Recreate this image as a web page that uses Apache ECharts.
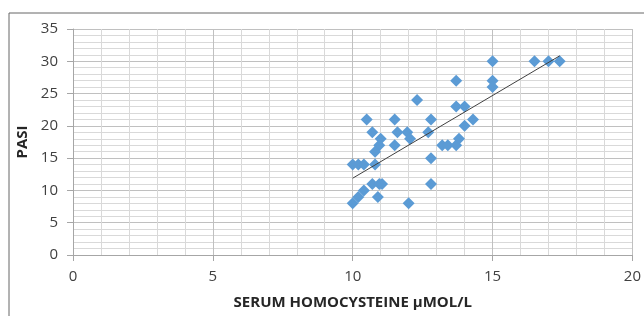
<!DOCTYPE html>
<html><head><meta charset="utf-8">
<script src="https://cdn.jsdelivr.net/npm/echarts@6/dist/echarts.min.js"></script>
<style>html,body{margin:0;padding:0;background:#fff}#c{width:644px;height:316px}</style>
</head><body><div id="c"></div>
<script>
const homocysteine = [10.0,10.2,10.4,10.0,10.2,10.4,10.8,10.5,10.7,11.0,10.95,10.8,10.7,10.95,11.05,10.9,11.5,11.6,11.5,11.95,12.05,12.0,12.3,12.8,12.7,12.8,12.8,13.2,13.4,13.7,13.8,13.7,13.7,14.0,14.0,14.3,15.0,15.0,15.0,16.5,17.0,17.4];
const pasi = [8,9,10,14,14,14,14,21,19,18,17,16,11,11,11,9,21,19,17,19,18,8,24,21,19,15,11,17,17,17,18,23,27,23,20,21,30,27,26,30,30,30];
const xTicks = [0,5,10,15,20];
const yTicks = [0,5,10,15,20,25,30,35];
const xTitle = 'SERUM HOMOCYSTEINE μMOL/L';
const yTitle = 'PASI';

const pts = homocysteine.map((x,i)=>[x,pasi[i]]);
const n = pts.length;
const mx = homocysteine.reduce((a,b)=>a+b,0)/n, my = pasi.reduce((a,b)=>a+b,0)/n;
let sxy=0,sxx=0; pts.forEach(([x,y])=>{sxy+=(x-mx)*(y-my);sxx+=(x-mx)*(x-mx);});
const slope=sxy/sxx, icpt=my-slope*mx;
const x0=Math.min(...homocysteine), x1=Math.max(...homocysteine);
const trend=[[x0,icpt+slope*x0],[x1,icpt+slope*x1]];

const chart = echarts.init(document.getElementById('c'));
const font = "'Open Sans', 'Liberation Sans', sans-serif";
chart.setOption({
  animation:false,
  graphic:[{type:'rect',shape:{x:9,y:13,width:700,height:400},style:{fill:'none',stroke:'#666',lineWidth:1}}],
  grid:{left:73,right:9,top:29,bottom:61},
  xAxis:{type:'value',min:xTicks[0],max:xTicks[xTicks.length-1],interval:5,
    name:xTitle,nameLocation:'middle',nameGap:40,
    nameTextStyle:{fontFamily:font,fontWeight:'bold',fontSize:15,color:'#262626'},
    axisLine:{show:true,lineStyle:{color:'#a6a6a6'}},
    axisTick:{show:true,length:6,lineStyle:{color:'#a6a6a6'}},
    axisLabel:{fontFamily:font,fontSize:15,color:'#404040',margin:14},
    splitLine:{show:true,lineStyle:{color:'#c0c0c0'}},
    minorTick:{show:false,splitNumber:5},
    minorSplitLine:{show:true,lineStyle:{color:'#d9d9d9'}}},
  yAxis:{type:'value',min:yTicks[0],max:yTicks[yTicks.length-1],interval:5,
    name:yTitle,nameLocation:'middle',nameGap:39,
    nameTextStyle:{fontFamily:font,fontWeight:'bold',fontSize:15,color:'#262626'},
    axisLine:{show:true,lineStyle:{color:'#a6a6a6'}},
    axisTick:{show:true,length:6,lineStyle:{color:'#a6a6a6'}},
    axisLabel:{fontFamily:font,fontSize:15,color:'#404040',margin:15},
    splitLine:{show:true,lineStyle:{color:'#c0c0c0'}},
    minorTick:{show:false,splitNumber:5},
    minorSplitLine:{show:true,lineStyle:{color:'#d9d9d9'}}},
  series:[
    {type:'scatter',data:pts,symbol:'diamond',symbolSize:12,itemStyle:{color:'#5b9bd5',opacity:1},z:3},
    {type:'line',data:trend,symbol:'none',lineStyle:{color:'#404040',width:1},z:4}
  ]
});
</script></body></html>
